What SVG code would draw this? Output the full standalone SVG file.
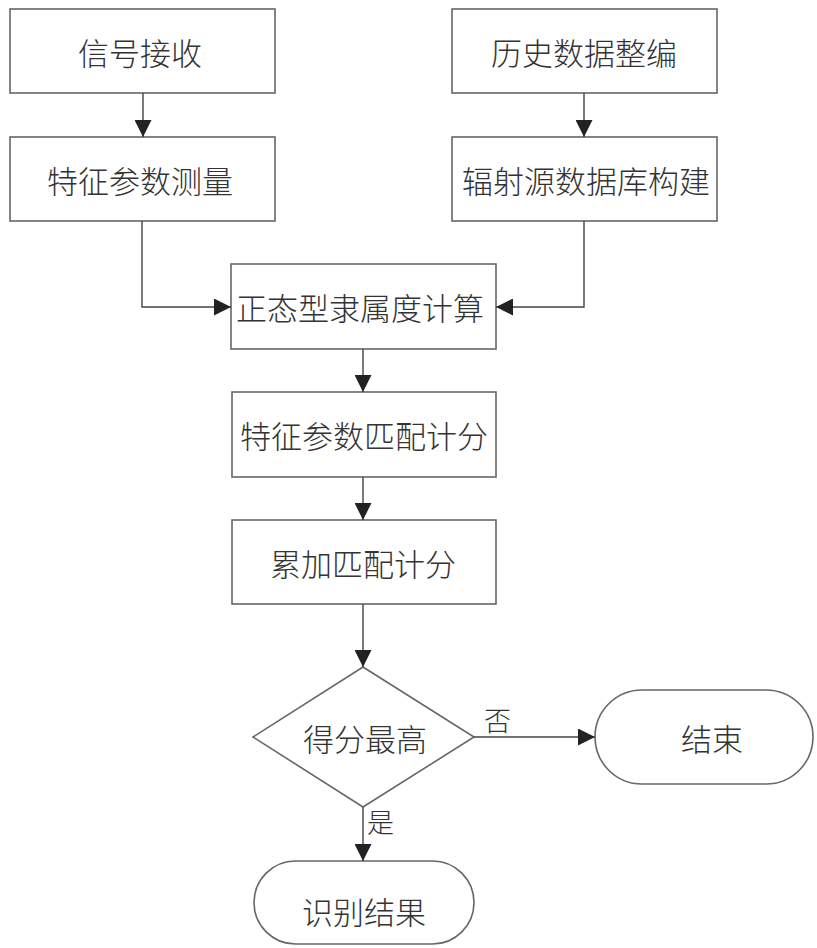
<svg xmlns="http://www.w3.org/2000/svg" width="817" height="948" viewBox="0 0 817 948">
<style>
.box{fill:#fff;stroke:#666;stroke-width:1.6}
.t{font-family:"Noto Sans CJK SC","Noto Sans",sans-serif;font-size:31px;font-weight:300;fill:#333;text-anchor:middle;dominant-baseline:central}
.lbl{font-family:"Noto Sans CJK SC","Noto Sans",sans-serif;font-size:27px;font-weight:300;fill:#333}
.c{fill:none;stroke:#444;stroke-width:1.4}
</style>
<defs>
<marker id="ah" viewBox="0 0 17 17" refX="17" refY="8.5" markerWidth="17" markerHeight="17" markerUnits="userSpaceOnUse" orient="auto">
<path d="M0,0 L17,8.5 L0,17 Z" fill="#222"/>
</marker>
</defs>
<g id="n1"><rect class="box" x="10" y="9" width="265" height="84"/><text class="t" x="140" y="51">信号接收</text></g>
<g id="n2"><rect class="box" x="10" y="137" width="265" height="84"/><text class="t" x="140" y="179">特征参数测量</text></g>
<g id="n3"><rect class="box" x="452" y="9" width="265" height="84"/><text class="t" x="584" y="51">历史数据整编</text></g>
<g id="n4"><rect class="box" x="452" y="137" width="265" height="84"/><text class="t" x="586" y="179">辐射源数据库构建</text></g>
<g id="n5"><rect class="box" x="231" y="264" width="265" height="85"/><text class="t" x="360" y="306">正态型隶属度计算</text></g>
<g id="n6"><rect class="box" x="232" y="392" width="264" height="85"/><text class="t" x="364" y="434">特征参数匹配计分</text></g>
<g id="n7"><rect class="box" x="232" y="520" width="264" height="84"/><text class="t" x="363" y="562">累加匹配计分</text></g>
<g id="n8"><polygon class="box" points="363,667 474,737 363,807 253,737"/><text class="t" x="365" y="737">得分最高</text></g>
<g id="n9"><rect class="box" x="595" y="690" width="218" height="94" rx="47" ry="47"/><text class="t" x="712" y="737">结束</text></g>
<g id="n10"><rect class="box" x="254" y="861" width="220" height="83" rx="41.5" ry="41.5"/><text class="t" x="364" y="910">识别结果</text></g>
<g id="connectors">
<line class="c" x1="143" y1="93" x2="143" y2="137" marker-end="url(#ah)"/>
<line class="c" x1="584" y1="93" x2="584" y2="137" marker-end="url(#ah)"/>
<polyline class="c" points="142,221 142,307 231,307" marker-end="url(#ah)"/>
<polyline class="c" points="584,221 584,307 496,307" marker-end="url(#ah)"/>
<line class="c" x1="363" y1="349" x2="363" y2="392" marker-end="url(#ah)"/>
<line class="c" x1="363" y1="477" x2="363" y2="520" marker-end="url(#ah)"/>
<line class="c" x1="363" y1="604" x2="363" y2="667" marker-end="url(#ah)"/>
<line class="c" x1="474" y1="737" x2="595" y2="737" marker-end="url(#ah)"/>
<line class="c" x1="363" y1="807" x2="363" y2="861" marker-end="url(#ah)"/>
<text class="lbl" x="484" y="731">否</text>
<text class="lbl" x="367" y="833">是</text>
</g>
</svg>
